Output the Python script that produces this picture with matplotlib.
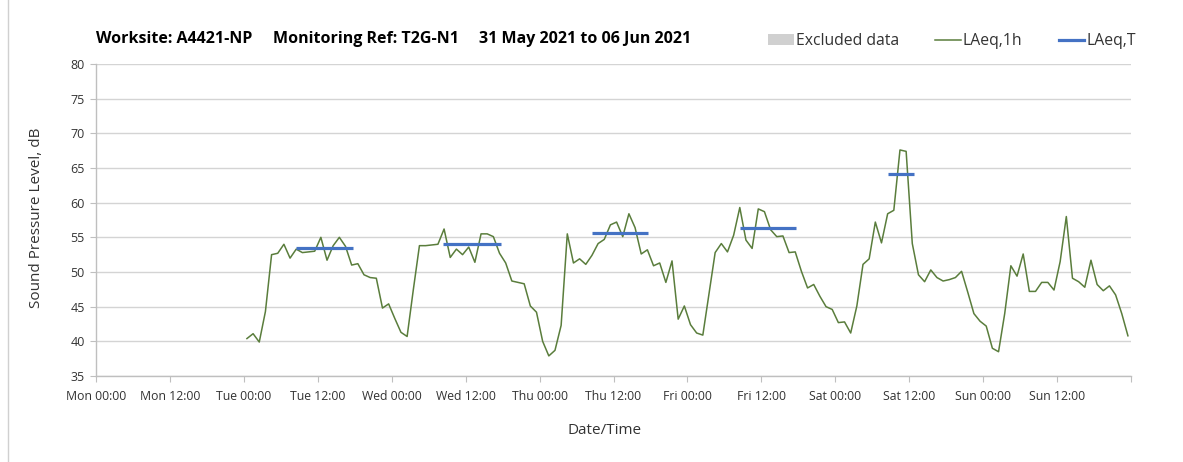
import numpy as np
import matplotlib
matplotlib.use("Agg")
import matplotlib.pyplot as plt
from matplotlib.ticker import MultipleLocator, FixedLocator
from matplotlib.patches import Patch
from matplotlib.lines import Line2D

# ---------------- data ----------------
title_site = "Worksite: A4421-NP"
title_ref = "Monitoring Ref: T2G-N1"
title_dates = "31 May 2021 to 06 Jun 2021"

tick_labels = ["Mon 00:00", "Mon 12:00", "Tue 00:00", "Tue 12:00", "Wed 00:00",
               "Wed 12:00", "Thu 00:00", "Thu 12:00", "Fri 00:00", "Fri 12:00",
               "Sat 00:00", "Sat 12:00", "Sun 00:00", "Sun 12:00", ""]

# hourly LAeq,1h values, first value at Tue 00:30 (hours since Mon 00:00)
first_hour = 24.5
laeq_1h = [
    40.4, 41.1, 39.9, 44.3, 52.5, 52.7, 54.0, 52.0, 53.3, 52.8, 52.9, 53.0,
    55.0, 51.7, 53.8, 55.0, 53.7, 51.0, 51.2, 49.6, 49.2, 49.1, 44.8, 45.4,
    43.3, 41.3, 40.7, 47.4, 53.8, 53.8, 53.9, 54.0, 56.2, 52.1, 53.3, 52.5,
    53.6, 51.4, 55.5, 55.5, 55.1, 52.7, 51.3, 48.7, 48.5, 48.3, 45.1, 44.2,
    40.0, 37.9, 38.7, 42.3, 55.5, 51.3, 51.9, 51.1, 52.4, 54.1, 54.7, 56.8,
    57.2, 55.1, 58.4, 56.4, 52.6, 53.2, 50.9, 51.3, 48.5, 51.6, 43.2, 45.1,
    42.4, 41.2, 40.9, 46.9, 52.8, 54.1, 52.9, 55.3, 59.3, 54.6, 53.4, 59.1,
    58.7, 56.1, 55.1, 55.2, 52.8, 52.9, 50.1, 47.7, 48.2, 46.5, 45.0, 44.6,
    42.7, 42.8, 41.2, 45.1, 51.1, 51.9, 57.2, 54.2, 58.4, 58.9, 67.6, 67.4,
    54.1, 49.6, 48.6, 50.3, 49.2, 48.7, 48.9, 49.2, 50.1, 47.1, 44.0, 42.9,
    42.2, 39.0, 38.5, 44.0, 50.9, 49.4, 52.6, 47.2, 47.2, 48.5, 48.5, 47.4,
    51.5, 58.0, 49.1, 48.6, 47.8, 51.7, 48.2, 47.3, 48.0, 46.7, 44.0, 40.8,
]

# LAeq,T periods (hours since Mon 00:00)
laeq_t_start = [32.45, 56.4, 80.45, 104.5, 128.5]
laeq_t_end = [41.65, 65.7, 89.6, 113.7, 132.85]
laeq_t_value = [53.4, 54.1, 55.6, 56.4, 64.1]

# ---------------- figure ----------------
W, H = 1183, 462
fig = plt.figure(figsize=(W / 100, H / 100), dpi=100)
plt.rcParams['font.family'] = ['Open Sans', 'DejaVu Sans']

ax = fig.add_axes([96 / W, 1 - 376 / H, (1131 - 96) / W, (376 - 64) / H])

hours = first_hour + np.arange(len(laeq_1h))
ax.plot(hours, laeq_1h, color="#5a7d3c", lw=1.1, zorder=3)
ax.hlines(laeq_t_value, laeq_t_start, laeq_t_end, color="#4472C4", lw=2.3, zorder=4)

ax.set_xlim(0, 168)
ax.set_ylim(35, 80)
ax.xaxis.set_major_locator(FixedLocator(np.arange(0, 169, 12)))
ax.set_xticklabels(tick_labels)
ax.xaxis.set_minor_locator(MultipleLocator(24))
ax.yaxis.set_major_locator(MultipleLocator(5))

grid_c = "#d4d4d4"
ax.grid(True, which="major", axis="y", color=grid_c, lw=1.0, zorder=0)
ax.grid(True, which="minor", axis="x", color=grid_c, lw=1.0, zorder=0)
ax.grid(False, which="major", axis="x")

for s in ["top", "right"]:
    ax.spines[s].set_visible(False)
for s in ["left", "bottom"]:
    ax.spines[s].set_color("#bfbfbf")
    ax.spines[s].set_linewidth(1.0)

ax.tick_params(axis="x", which="major", direction="out", length=4, color="#bfbfbf",
               labelsize=8.8, labelcolor="#333333", pad=6)
ax.tick_params(axis="x", which="minor", length=0)
ax.tick_params(axis="y", direction="out", length=4, color="#bfbfbf",
               labelsize=9, labelcolor="#333333", pad=4)

# titles
ty = 1 - 39 / H
fig.text(96 / W, ty, title_site, fontsize=11.5, fontweight="bold", va="center", ha="left")
fig.text(273 / W, ty, title_ref, fontsize=11.5, fontweight="bold", va="center", ha="left")
fig.text(479 / W, ty, title_dates, fontsize=11.5, fontweight="bold", va="center", ha="left")

# axis labels
fig.text(37 / W, 1 - 218 / H, "Sound Pressure Level, dB", rotation=90, fontsize=11,
         va="center", ha="center", color="#333333")
fig.text(605 / W, 1 - 430 / H, "Date/Time", fontsize=11, va="center", ha="center",
         color="#333333")

# legend
handles = [Patch(facecolor="#d0d0d0", edgecolor="none"),
           Line2D([], [], color="#5a7d3c", lw=1.1),
           Line2D([], [], color="#4472C4", lw=2.3)]
labels = ["Excluded data", "LAeq,1h", "LAeq,T"]
fig.legend(handles, labels, loc="center right", bbox_to_anchor=(1136 / W, 1 - 41 / H),
           ncol=3, frameon=False, fontsize=11.3, handlelength=1.65, handleheight=0.65,
           handletextpad=0.13, columnspacing=2.3, borderaxespad=0, borderpad=0,
           labelcolor="#333333")

# outer frame line on left
fig.add_artist(Line2D([8 / W, 8 / W], [0.0, 1.0], color="#d0d0d0", lw=1.0))

fig.savefig("out.png", dpi=100)
